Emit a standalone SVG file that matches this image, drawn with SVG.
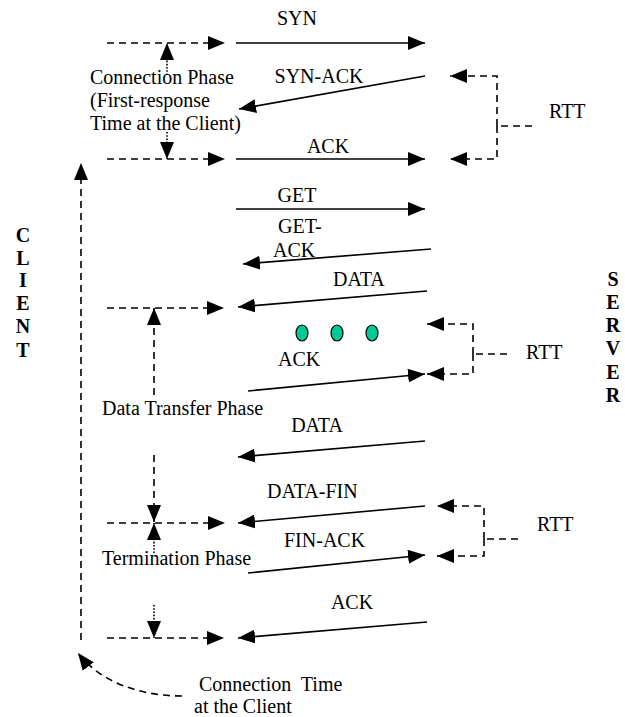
<svg xmlns="http://www.w3.org/2000/svg" width="625" height="717" viewBox="0 0 625 717" font-family="'Liberation Serif', 'DejaVu Serif', serif">
<style>
text{font-family:'Liberation Serif','DejaVu Serif',serif;font-size:20px;fill:#000}
.b{font-weight:bold;text-anchor:middle}
.m{text-anchor:middle}
.s{fill:none;stroke:#000;stroke-width:1.6}
.d{fill:none;stroke:#000;stroke-width:1.6;stroke-dasharray:7,5}
.o{fill:none;stroke:#000;stroke-width:1.6;stroke-dasharray:1.6,1.6}
.a{marker-end:url(#ah)}
.dot{fill:#00c896;stroke:#000;stroke-width:1.2}
</style>
<defs>
<marker id="ah" viewBox="0 0 17 14" refX="17" refY="7" markerWidth="17" markerHeight="14" markerUnits="userSpaceOnUse" orient="auto"><path d="M0,0 L17,7 L0,14z" fill="#000"/></marker>
</defs>
<g id="connectors">
<path class="d a" d="M107,43 H225"/>
<path class="s a" d="M236,43 H425"/>
<path class="o a" d="M167,75 V43"/>
<path class="o a" d="M167,132 V159"/>
<path class="d a" d="M107,159 H225"/>
<path class="s a" d="M236,159 H425"/>
<path class="s a" d="M425,76 L239,109"/>
<path class="d a" d="M497,126 V76 H450"/>
<path class="d a" d="M497,126 V159 H450"/>
<path class="d" d="M532,126 H497"/>
<path class="d a" d="M81,640 V163"/>
<path class="d a" d="M182,696 C140,696 100,682 78,653"/>
<path class="s a" d="M236,209 H425"/>
<path class="s a" d="M431,249 L243,264"/>
<path class="s a" d="M427,291 L238,307"/>
<path class="d a" d="M107,308 H224"/>
<path class="d a" d="M154,395 V308"/>
<path class="s a" d="M248,391 L425,374"/>
<path class="d a" d="M473,354 V324 H427"/>
<path class="d a" d="M473,354 V374 H427"/>
<path class="d" d="M507,354 H473"/>
<path class="s a" d="M425,441 L238,457"/>
<path class="d a" d="M154,455 V522"/>
<path class="o a" d="M154,553 V523"/>
<path class="d a" d="M107,523 H225"/>
<path class="s a" d="M425,506 L238,523"/>
<path class="s a" d="M248,573 L425,555"/>
<path class="d a" d="M484,539 V506 H437"/>
<path class="d a" d="M484,539 V556 H437"/>
<path class="d" d="M518,539 H484"/>
<path class="s a" d="M427,622 L238,638"/>
<path class="d a" d="M107,638 H224"/>
<path class="o a" d="M154,605 V638"/>
</g>
<g id="dots">
<ellipse class="dot" cx="302" cy="333" rx="6" ry="8"/>
<ellipse class="dot" cx="337" cy="333" rx="6" ry="8"/>
<ellipse class="dot" cx="372" cy="333" rx="6" ry="8"/>
</g>
<g id="client">
<text class="b" x="23" y="242">C</text>
<text class="b" x="23" y="265">L</text>
<text class="b" x="23" y="287">I</text>
<text class="b" x="23" y="310">E</text>
<text class="b" x="23" y="333">N</text>
<text class="b" x="23" y="357">T</text>
</g>
<g id="server">
<text class="b" x="613" y="286">S</text>
<text class="b" x="613" y="309">E</text>
<text class="b" x="613" y="332">R</text>
<text class="b" x="613" y="355">V</text>
<text class="b" x="613" y="379">E</text>
<text class="b" x="613" y="402">R</text>
</g>
<g id="labels">
<text class="m" x="297" y="25">SYN</text>
<text x="90" y="84">Connection Phase</text>
<text x="90" y="107">(First-response</text>
<text x="90" y="130">Time at the Client)</text>
<text class="m" x="319" y="83">SYN-ACK</text>
<text class="m" x="328" y="153">ACK</text>
<text x="549" y="118">RTT</text>
<text class="m" x="297" y="202">GET</text>
<text x="278" y="233">GET-</text>
<text x="273" y="257">ACK</text>
<text x="333" y="286">DATA</text>
<text x="278" y="366">ACK</text>
<text x="526" y="359">RTT</text>
<text x="102" y="415">Data Transfer Phase</text>
<text class="m" x="317" y="432">DATA</text>
<text x="267" y="498">DATA-FIN</text>
<text x="284" y="547">FIN-ACK</text>
<text x="102" y="565">Termination Phase</text>
<text x="537" y="531">RTT</text>
<text class="m" x="352" y="609">ACK</text>
<text x="199" y="691" xml:space="preserve">Connection  Time</text>
<text x="194" y="713">at the Client</text>
</g>
</svg>
